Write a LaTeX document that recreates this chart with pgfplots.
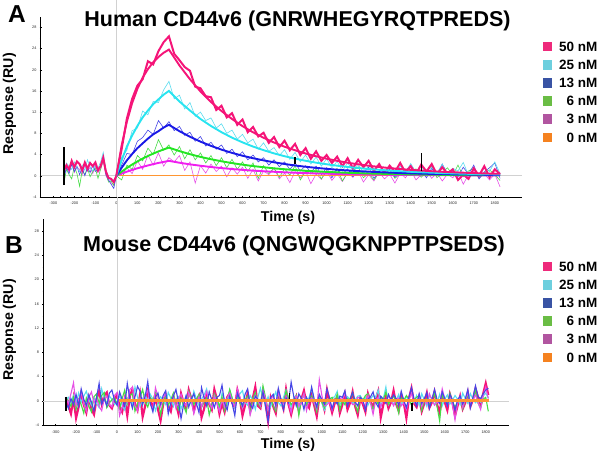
\documentclass[border=0pt]{standalone}
\usepackage{fontspec}
\setmainfont{Liberation Sans}
\usepackage{pgfplots}
\usepackage{pgfplotstable}
\pgfplotsset{compat=1.18}

\definecolor{pinkL}{RGB}{245,20,120}
\definecolor{cyanF}{RGB}{40,228,240}
\definecolor{cyanD}{RGB}{90,220,238}
\definecolor{blueF}{RGB}{25,25,230}
\definecolor{blueD}{RGB}{70,70,230}
\definecolor{greenF}{RGB}{35,230,35}
\definecolor{greenD}{RGB}{70,220,70}
\definecolor{magF}{RGB}{240,30,240}
\definecolor{magD}{RGB}{230,80,230}
\definecolor{orangeL}{RGB}{255,150,50}
\definecolor{lg50}{RGB}{238,42,123}
\definecolor{lg25}{RGB}{109,207,222}
\definecolor{lg13}{RGB}{57,83,164}
\definecolor{lg6}{RGB}{106,189,69}
\definecolor{lg3}{RGB}{177,85,160}
\definecolor{lg0}{RGB}{245,130,32}

% Panel A: measured sensorgrams (RU)
\pgfplotstableread{
t p c b g m
-250 1.0 0.4 -0.6 -1.6 0.2
-237.5 2.0 2.4 1.6 1.2 1.4
-225 1.2 1.8 0.4 0.2 0.8
-212.5 2.8 1.2 2.2 -0.6 2.2
-200 1.6 2.6 0.8 1.8 0.6
-187.5 2.7 1.5 1.8 0.4 1.6
-175 2.2 0.8 0.2 -2.0 1.2
-162.5 1.0 2.0 1.4 1.0 0.2
-150 2.5 1.0 0.0 0.2 2.0
-137.5 1.3 3.0 1.6 1.4 0.8
-125 2.4 1.6 0.6 -0.2 1.6
-112.5 1.8 0.9 2.0 0.8 0.4
-100 2.5 2.2 0.8 1.4 1.8
-87.5 1.0 1.4 1.2 -0.5 0.6
-75 1.8 2.6 1.6 1.2 1.2
-62.5 3.4 4.4 3.8 3.0 2.8
-50 0.8 1.2 0.3 0.4 0.0
-37.5 -0.4 -0.2 -0.8 -1.2 -0.9
-25 -0.6 -1.0 -1.6 -1.0 -1.3
-12.5 -1.2 -0.8 -2.4 -1.8 -1.8
0 0 0 0 0 0
25 5.0 3.5 2.0 -0.8 0.3
50 10.8 4.8 4.2 2.0 1.5
75 14.5 8.5 4.0 1.2 0.4
100 17.0 9.0 6.5 3.8 2.8
125 18.2 12.2 7.2 2.8 1.2
150 21.6 11.5 8.6 5.2 3.9
175 21.0 14.0 7.8 4.0 2.0
200 23.5 13.8 10.4 6.8 4.3
225 25.2 16.2 9.0 4.8 1.8
250 26.3 17.8 10.2 5.8 3.4
275 23.0 14.5 8.5 3.9 2.6
300 21.8 15.2 9.3 5.5 3.8
325 20.5 12.6 7.6 3.2 1.0
350 19.8 13.8 8.2 4.9 2.6
375 16.8 11.2 6.5 3.0 -1.4
400 16.5 12.0 7.4 4.3 1.9
425 15.0 10.4 5.6 2.4 0.5
450 14.8 10.9 6.3 3.8 2.2
475 12.4 9.0 5.0 1.9 0.8
500 13.2 9.8 5.8 3.4 1.8
525 11.0 8.0 4.2 1.5 -0.2
550 11.8 8.6 5.0 3.1 1.5
575 9.6 6.9 3.6 1.2 0.3
600 10.6 7.8 4.5 2.6 1.6
625 8.2 6.2 3.0 0.8 -0.5
650 9.2 6.9 3.9 2.4 1.2
675 7.4 5.0 2.6 -0.5 -1.0
700 8.1 6.2 3.4 1.9 0.9
725 6.2 4.6 2.0 0.4 0.2
750 7.3 5.3 3.0 1.5 1.4
775 5.4 3.8 1.7 -0.3 -0.6
800 6.6 4.9 2.6 1.3 0.5
825 4.8 3.1 1.2 0.1 -1.3
850 6.0 4.4 2.4 1.9 0.8
875 3.9 2.6 0.9 -0.8 -0.4
900 5.2 3.9 1.9 0.8 0.9
925 3.2 2.2 0.6 0.3 -1.5
950 4.6 3.5 1.8 1.2 0.3
975 2.8 1.8 0.2 -0.6 -0.7
1000 3.9 3.2 1.5 0.9 1.0
1025 2.4 1.5 -0.4 0.2 -0.9
1050 3.6 2.7 1.2 1.4 0.4
1075 1.8 0.9 0.3 -1.0 -1.1
1100 3.3 2.4 1.3 0.6 0.6
1125 1.4 1.0 -0.2 0.9 -0.3
1150 3.0 2.2 1.0 1.7 0.9
1175 1.6 0.5 0.5 -0.4 -1.2
1200 2.8 1.9 1.6 0.5 0.2
1225 0.9 0.6 -0.5 -0.8 -1.0
1250 2.2 2.3 0.8 0.7 0.7
1275 0.5 0.4 0.2 0.2 -0.6
1300 1.9 1.5 1.2 1.1 0.3
1325 0.7 0.1 -0.3 -0.5 -1.4
1350 2.4 1.8 0.6 0.4 0.5
1375 0.6 0.5 0.9 1.0 -0.4
1400 1.8 2.3 2.0 0.0 1.1
1425 0.3 0.7 0.1 1.3 -0.8
1450 2.1 1.9 1.1 -0.3 0.2
1475 0.8 0.2 -0.4 0.8 0.9
1500 2.2 1.6 1.4 1.9 -0.5
1525 0.2 0.5 0.0 -0.4 0.6
1550 1.6 2.2 2.2 0.6 -1.0
1575 0.4 0.3 0.4 1.5 0.3
1600 1.2 1.4 0.9 0.1 -0.4
1625 -0.8 0.9 -0.2 2.0 0.8
1650 0.2 2.5 1.6 -0.2 -1.6
1675 -0.6 0.1 0.3 0.9 0.2
1700 1.4 1.2 2.0 1.4 0.9
1725 0.0 -0.2 -0.6 -0.3 -0.5
1750 1.8 1.5 0.7 0.5 0.4
1775 -0.3 0.8 1.5 1.1 -0.8
1800 1.2 2.6 2.4 0.2 0.3
1825 0.3 0.4 -0.5 -0.9 -2.1
}\dataA

% Panel A: fitted curves
\pgfplotstableread{
t p c b g m
0 0 0 0 0 0
25 5.7 2.9 1.5 0.77 0.39
50 10.2 5.5 2.9 1.47 0.76
75 13.7 7.6 4.1 2.11 1.09
100 16.4 9.4 5.2 2.69 1.40
125 18.5 11.0 6.1 3.23 1.68
150 20.1 12.3 7.0 3.72 1.93
175 21.4 13.5 7.8 4.17 2.18
200 22.4 14.4 8.4 4.58 2.41
225 23.2 15.3 9.1 4.96 2.60
250 23.8 16.0 9.6 5.30 2.80
300 20.8 14.0 8.4 4.64 2.45
350 18.2 12.3 7.35 4.06 2.14
400 15.9 10.7 6.43 3.55 1.88
450 13.9 9.38 5.63 3.11 1.64
500 12.2 8.21 4.92 2.72 1.44
550 10.7 7.18 4.31 2.38 1.26
600 9.35 6.29 3.77 2.08 1.10
650 8.19 5.50 3.30 1.82 0.96
700 7.16 4.82 2.89 1.60 0.84
750 6.26 4.21 2.53 1.39 0.74
800 5.47 3.68 2.21 1.22 0.64
850 4.80 3.22 1.93 1.07 0.56
900 4.19 2.82 1.69 0.93 0.49
950 3.67 2.46 1.48 0.82 0.43
1000 3.21 2.16 1.30 0.72 0.38
1050 2.81 1.89 1.13 0.63 0.33
1100 2.45 1.65 0.99 0.55 0.29
1150 2.15 1.45 0.87 0.48 0.25
1200 1.88 1.26 0.76 0.42 0.22
1250 1.65 1.11 0.67 0.37 0.19
1300 1.44 0.97 0.58 0.32 0.17
1350 1.26 0.85 0.51 0.28 0.15
1400 1.10 0.74 0.45 0.25 0.13
1450 0.97 0.65 0.39 0.22 0.11
1500 0.85 0.57 0.34 0.19 0.10
1550 0.74 0.50 0.30 0.16 0.09
1600 0.65 0.44 0.26 0.14 0.08
1650 0.57 0.38 0.23 0.13 0.07
1700 0.50 0.33 0.20 0.11 0.06
1750 0.43 0.29 0.17 0.10 0.05
1800 0.38 0.26 0.15 0.08 0.04
1825 0.36 0.24 0.14 0.08 0.04
}\fitA

% Panel B: measured sensorgrams (RU)
\pgfplotstableread{
t p c b g m
-250 0.6 0.2 -0.3 0.4 0.5
-237.5 -0.8 0.6 -1.2 0.1 -0.4
-225 -2.1 -0.3 0.4 -0.9 1.2
-212.5 0.4 0.9 -0.6 0.6 3.0
-200 -2.8 -0.5 1.1 -1.4 -0.8
-187.5 -1.0 1.3 -0.9 0.3 0.2
-175 1.2 -0.2 2.0 -0.6 1.4
-162.5 -0.6 0.8 0.3 -2.0 -0.5
-150 -1.9 1.6 -0.7 0.5 -1.7
-137.5 0.5 0.2 1.0 -0.9 0.6
-125 -1.3 -0.7 -0.2 -1.8 1.5
-112.5 -2.2 0.5 -1.6 0.7 -0.3
-100 0.3 -0.4 0.6 1.2 0.4
-87.5 1.6 -1.1 2.9 -0.4 -0.9
-75 -0.5 2.0 -0.5 0.9 -1.6
-62.5 0.9 0.4 0.4 1.4 0.3
-50 1.4 -0.3 -0.8 -1.1 0.8
-37.5 -0.7 0.8 1.3 -0.3 -0.6
-25 -1.2 0.3 1.8 0.2 -1.0
-12.5 0.2 -0.6 0.1 0.6 0.9
0 1.0 -0.2 -0.7 -0.5 1.4
12.5 -0.9 1.0 1.5 -1.3 -2.4
25 -1.8 -0.8 0.2 0.4 -1.0
37.5 0.3 -1.5 -0.9 1.8 0.6
50 -2.4 0.5 2.9 -0.5 -0.2
62.5 0.8 0.1 0.4 0.9 1.9
75 1.9 -0.6 -1.2 1.2 2.3
87.5 -0.4 2.3 0.7 -1.7 -0.8
100 -1.5 0.6 2.4 -0.4 -1.6
112.5 1.1 -0.9 1.6 0.6 0.5
125 -2.6 0.4 -0.6 1.9 -0.1
137.5 -0.8 1.2 0.8 -0.2 1.0
150 1.6 -0.3 3.2 -1.0 1.7
162.5 0.2 1.1 -0.4 0.5 -0.6
175 -1.1 0.3 -1.8 0.1 -1.3
187.5 0.5 -1.6 0.6 1.5 2.2
200 -1.4 -0.4 1.3 0.8 0.7
212.5 -3.2 0.7 -0.5 -2.3 -0.9
225 -0.6 0.2 0.9 -0.4 0.4
237.5 1.0 -0.6 1.7 0.9 1.3
250 -0.9 1.4 -2.1 -0.7 -1.8
262.5 -1.7 0.5 -0.3 0.2 -0.5
275 0.6 -0.9 0.8 1.3 0.9
287.5 -0.4 0.3 1.9 -0.5 -1.2
300 -2.1 0.7 -0.2 -1.4 0.3
312.5 1.2 -1.3 -2.9 0.5 1.1
325 -0.3 -0.2 -0.6 -0.8 -0.3
337.5 -1.2 0.9 0.9 -1.9 -0.8
350 1.8 0.2 -1.0 1.6 1.4
362.5 0.4 -0.5 0.3 0.6 0.2
375 -1.6 1.6 1.2 -0.6 -2.1
387.5 -0.2 0.4 -0.4 0.3 -0.6
400 0.8 -0.8 -1.9 1.1 0.7
412.5 -2.7 0.3 2.2 -1.1 -1.0
425 -1.3 1.0 0.5 -0.2 0.4
437.5 0.9 2.0 -0.8 0.5 1.6
450 -0.5 -0.4 1.5 -2.3 -0.3
462.5 -1.4 -1.0 0.2 -0.6 -1.2
475 1.9 0.8 -1.1 1.2 0.9
487.5 0.3 0.1 0.6 0.4 -0.4
500 -2.1 -1.2 0.9 -0.9 -1.7
512.5 -0.4 1.3 2.6 0.7 0.2
525 -1.8 0.2 -0.3 -1.6 -1.0
537.5 0.6 -0.6 -1.5 0.1 0.5
550 1.3 1.8 0.7 1.9 1.3
562.5 -0.3 0.5 -0.5 0.4 -0.2
575 -1.0 -1.1 -2.4 -0.5 -0.9
587.5 1.8 0.3 1.3 1.0 2.0
600 0.2 1.2 0.2 -0.3 0.6
612.5 -2.4 1.7 -0.8 -1.2 -1.2
625 -0.7 -0.3 1.1 0.2 -0.3
637.5 1.2 -0.7 2.0 0.8 0.4
650 -1.5 0.9 -0.6 -2.0 -2.3
662.5 0.4 0.2 -1.2 0.3 -0.7
675 2.3 -1.4 0.8 1.4 0.9
687.5 -0.8 0.6 0.3 -0.4 0.1
700 -1.2 2.1 -0.4 -1.0 -0.8
712.5 1.5 0.3 1.5 2.5 1.7
725 -0.4 -0.5 -0.9 0.6 0.4
737.5 -3.3 0.7 -3.4 -1.4 -1.5
750 0.5 -0.9 0.6 0.4 0.2
762.5 -0.9 0.4 1.1 -0.8 0.9
775 -2.0 1.5 -0.7 -1.7 -1.1
787.5 1.3 -0.2 2.1 1.1 1.5
800 0.1 -0.8 0.3 0.2 -0.2
812.5 -1.3 0.6 -1.4 -0.9 -0.6
825 1.9 1.8 0.5 1.7 0.8
837.5 -0.6 0.3 -0.3 0.4 -0.4
850 -2.2 -1.0 3.1 -0.6 -1.9
862.5 -0.5 0.5 0.8 -0.1 0.3
875 0.7 0.9 -0.8 0.9 0.8
887.5 -1.6 -1.3 1.2 -2.4 -0.9
900 0.3 0.2 0.4 0.2 -0.3
912.5 1.7 1.1 -1.4 1.0 1.2
925 -0.4 -0.5 0.6 -0.7 -1.6
937.5 -1.1 0.6 -0.2 0.3 0.2
950 0.9 2.0 2.3 0.8 0.5
962.5 -0.7 0.1 0.3 -0.4 -0.3
975 -2.5 -0.9 -1.0 -1.8 -1.3
987.5 0.6 0.8 1.1 0.4 3.5
1000 0.2 -0.3 0.2 -0.2 0.9
1012.5 -1.4 -1.5 -0.5 -1.1 -0.8
1025 1.8 -0.4 2.0 0.3 -0.6
1037.5 -0.2 0.4 0.5 0.3 -0.2
1050 -1.9 0.5 -1.3 0.6 -1.5
1062.5 -0.4 0.7 0.2 -0.2 0.3
1075 0.7 1.6 -0.5 1.1 -0.4
1087.5 -2.0 -0.6 0.8 -1.5 0.5
1100 -0.6 0.2 0.6 0.1 0.2
1112.5 1.1 -0.5 1.7 -0.6 1.2
1125 -1.4 0.7 -0.8 0.4 -0.4
1137.5 -0.3 0.3 0.3 0.2 0.1
1150 1.5 -0.4 1.4 1.4 -0.6
1162.5 -0.9 0.2 -0.2 -0.6 -0.5
1175 -2.3 0.8 -0.8 -1.8 0.6
1187.5 0.4 0.9 0.6 0.6 0.4
1200 -0.5 0.1 0.2 0.1 -0.2
1212.5 -1.8 0.6 -1.5 0.9 -1.1
1225 1.2 -0.7 0.3 1.2 0.9
1237.5 -0.1 0.3 0.7 -0.3 -0.4
1250 -0.9 0.9 1.5 -1.4 -2.2
1262.5 0.3 0.6 -0.2 0.2 0.1
1275 1.6 1.8 -1.0 -0.5 0.6
1287.5 -2.7 -0.9 0.8 0.6 -1.0
1300 -0.6 0.4 0.3 0.2 0.3
1312.5 0.7 2.3 -0.4 1.5 -0.3
1325 -1.2 -0.6 1.1 -0.5 0.9
1337.5 -0.2 0.2 0.2 0.2 0.1
1350 1.7 -0.5 1.0 0.9 -0.8
1362.5 -0.5 0.1 0.4 -0.3 0.2
1375 -1.6 1.1 -0.7 -2.0 0.5
1387.5 0.9 -0.6 1.6 0.5 -0.8
1400 -0.3 0.2 0.1 0.1 -0.3
1412.5 -2.8 0.6 -1.1 0.9 -1.4
1425 0.4 0.3 0.6 0.3 0.2
1437.5 2.1 -0.5 2.2 -0.7 1.3
1450 -0.4 -0.2 0.3 0.2 -0.2
1462.5 -1.0 0.9 -0.8 0.6 -0.6
1475 0.6 -0.7 1.2 0.9 1.0
1487.5 -1.7 1.2 -0.4 -1.6 -0.9
1500 -0.4 0.2 0.4 0.1 0.3
1512.5 1.3 -0.9 1.4 0.4 -0.5
1525 -1.1 0.8 -1.2 -0.8 1.2
1537.5 -0.2 0.5 0.3 0.4 0.1
1550 1.5 -0.6 1.9 1.2 -0.7
1562.5 -0.6 -0.2 0.2 -0.9 -0.2
1575 -1.9 1.1 -0.4 -3.3 -0.4
1587.5 0.7 -0.8 1.5 1.0 2.0
1600 -0.2 0.3 0.4 0.2 0.3
1612.5 -1.5 1.0 -0.8 -0.5 -0.8
1625 1.1 -0.5 1.1 1.3 0.6
1637.5 -0.3 0.1 0.2 -0.2 -0.6
1650 -2.4 0.9 -1.5 -1.0 -3.1
1662.5 -0.8 0.3 0.2 -0.2 -0.4
1675 0.8 -0.6 0.8 0.7 0.8
1687.5 -1.3 1.3 -0.5 -1.3 -1.1
1700 -0.3 0.4 0.3 0.1 0.2
1712.5 1.4 -0.4 1.9 0.9 1.3
1725 -0.9 1.2 -1.1 -0.6 -0.5
1737.5 0.2 0.3 0.6 0.4 0.2
1750 2.0 -0.3 2.5 1.7 1.0
1762.5 0.6 0.2 0.7 -0.4 -0.3
1775 -0.5 -0.2 0.4 -1.1 -1.4
1787.5 1.2 0.8 1.2 0.3 0.9
1800 2.9 1.3 1.8 0.6 2.3
1812.5 1.0 0.5 2.1 -1.7 0.4
}\dataB

\pgfplotsset{
  sprstyle/.style={
    scale only axis,
    anchor=south west,
    ymin=-4, ymax=30,
    axis lines=left,
    axis line style={-, black, line width=0.5pt},
    xtick={-300,-200,...,1800},
    minor x tick num=2,
    ytick={-4,0,...,28},
    minor y tick num=1,
    tick align=center,
    major tick length=2.2pt,
    minor tick length=1.4pt,
    tick style={black, line width=0.4pt},
    tick label style={font=\fontsize{3.8}{4}\selectfont, text=black!85},
    xticklabel style={yshift=-0.6pt},
    yticklabel style={xshift=0.3pt},
    /pgf/number format/assume math mode=true,
    /pgf/number format/set thousands separator={},
    clip=false,
    every axis plot/.append style={no marks},
  }
}

\begin{document}
\begin{tikzpicture}
\useasboundingbox (0pt,0pt) rectangle (600pt,-451pt);

% ---------- Panel A ----------
\begin{axis}[sprstyle, at={(40.7pt,-196.9pt)}, width=481pt, height=180.2pt,
  xmin=-360, xmax=1928]
  \addplot[black!18, line width=0.6pt] coordinates {(-360,0) (1928,0)};
  \addplot[black!18, line width=0.6pt] coordinates {(0,-4) (0,33.1)};
  \addplot[magD, line width=0.6pt] table[x=t,y=m] {\dataA};
  \addplot[greenD, line width=0.6pt] table[x=t,y=g] {\dataA};
  \addplot[blueD, line width=0.6pt] table[x=t,y=b] {\dataA};
  \addplot[cyanD, line width=0.6pt] table[x=t,y=c] {\dataA};
  \addplot[orangeL, line width=1.4pt] coordinates {(0,0) (1825,0)};
  \addplot[pinkL, line width=2pt] table[x=t,y=p] {\dataA};
  \addplot[magF, line width=1.9pt] table[x=t,y=m] {\fitA};
  \addplot[greenF, line width=1.9pt] table[x=t,y=g] {\fitA};
  \addplot[blueF, line width=1.9pt] table[x=t,y=b] {\fitA};
  \addplot[cyanF, line width=1.9pt] table[x=t,y=c] {\fitA};
  \addplot[pinkL, line width=1.9pt] table[x=t,y=p] {\fitA};
  \addplot[black, line width=1.5pt] coordinates {(-250,-1.8) (-250,5.4)};
  \addplot[black, line width=1.3pt] coordinates {(850,2.2) (850,3.6)};
  \addplot[black, line width=1.3pt] coordinates {(1450,0.8) (1450,4.3)};
\end{axis}

% ---------- Panel B ----------
\begin{axis}[sprstyle, at={(43.3pt,-425.3pt)}, width=466pt, height=206.7pt,
  xmin=-360, xmax=1915]
  \addplot[black!18, line width=0.6pt] coordinates {(-360,0) (1915,0)};
  \addplot[black!18, line width=0.6pt] coordinates {(0,-4) (0,33.5)};
  \addplot[pinkL, line width=2.2pt] table[x=t,y=p] {\dataB};
  \addplot[cyanD, line width=1.1pt] table[x=t,y=c] {\dataB};
  \addplot[greenD, line width=1.1pt] table[x=t,y=g] {\dataB};
  \addplot[magD, line width=1.1pt] table[x=t,y=m] {\dataB};
  \addplot[blueD, line width=1.1pt] table[x=t,y=b] {\dataB};
  \addplot[orangeL, line width=3pt] coordinates {(10,0) (1815,0)};
  \addplot[black, line width=1.4pt] coordinates {(-250,0.7) (-250,-1.7)};
  \addplot[black, line width=1.2pt] coordinates {(840,0.4) (840,1.3)};
  \addplot[black, line width=1.4pt] coordinates {(1440,-0.3) (1440,-1.7)};
\end{axis}

% ---------- Titles and labels ----------
\node[anchor=base west, inner sep=0, font=\bfseries\fontsize{24.5}{26}\selectfont] at (8pt,-22.7pt) {A};
\node[anchor=base west, inner sep=0, font=\bfseries\fontsize{24.5}{26}\selectfont] at (5pt,-253pt) {B};
\node[anchor=base, inner sep=0, font=\bfseries\fontsize{21.5}{24}\selectfont] at (297.5pt,-26pt) {Human CD44v6 (GNRWHEGYRQTPREDS)};
\node[anchor=base, inner sep=0, font=\bfseries\fontsize{21.5}{24}\selectfont] at (294pt,-251.7pt) {Mouse CD44v6 (QNGWQGKNPPTPSEDS)};
\node[rotate=90, anchor=center, inner sep=0, font=\bfseries\fontsize{14.2}{16}\selectfont] at (9.5pt,-104pt) {Response (RU)};
\node[rotate=90, anchor=center, inner sep=0, font=\bfseries\fontsize{14.2}{16}\selectfont] at (9.5pt,-330pt) {Response (RU)};
\node[anchor=base, inner sep=0, font=\bfseries\fontsize{14.2}{16}\selectfont] at (288pt,-221.7pt) {Time (s)};
\node[anchor=base, inner sep=0, font=\bfseries\fontsize{14.2}{16}\selectfont] at (288pt,-448pt) {Time (s)};

% ---------- Legends ----------
\foreach \ytop in {46.7, 266.7} {
  \foreach \col/\lab [count=\i from 0] in {lg50/50 nM, lg25/25 nM, lg13/13 nM, lg6/6 nM, lg3/3 nM, lg0/0 nM} {
    \pgfmathsetmacro{\ya}{-\ytop-18.1*\i-4.7}
    \pgfmathsetmacro{\yb}{-\ytop-18.1*\i+4.7}
    \pgfmathsetmacro{\yt}{-\ytop-18.1*\i-4.8}
    \fill[\col] (542.7pt,\ya pt) rectangle (551.9pt,\yb pt);
    \node[anchor=base east, inner sep=0, font=\bfseries\fontsize{13.5}{15}\selectfont] at (597.5pt,\yt pt) {\lab};
  }
}
\end{tikzpicture}
\end{document}
